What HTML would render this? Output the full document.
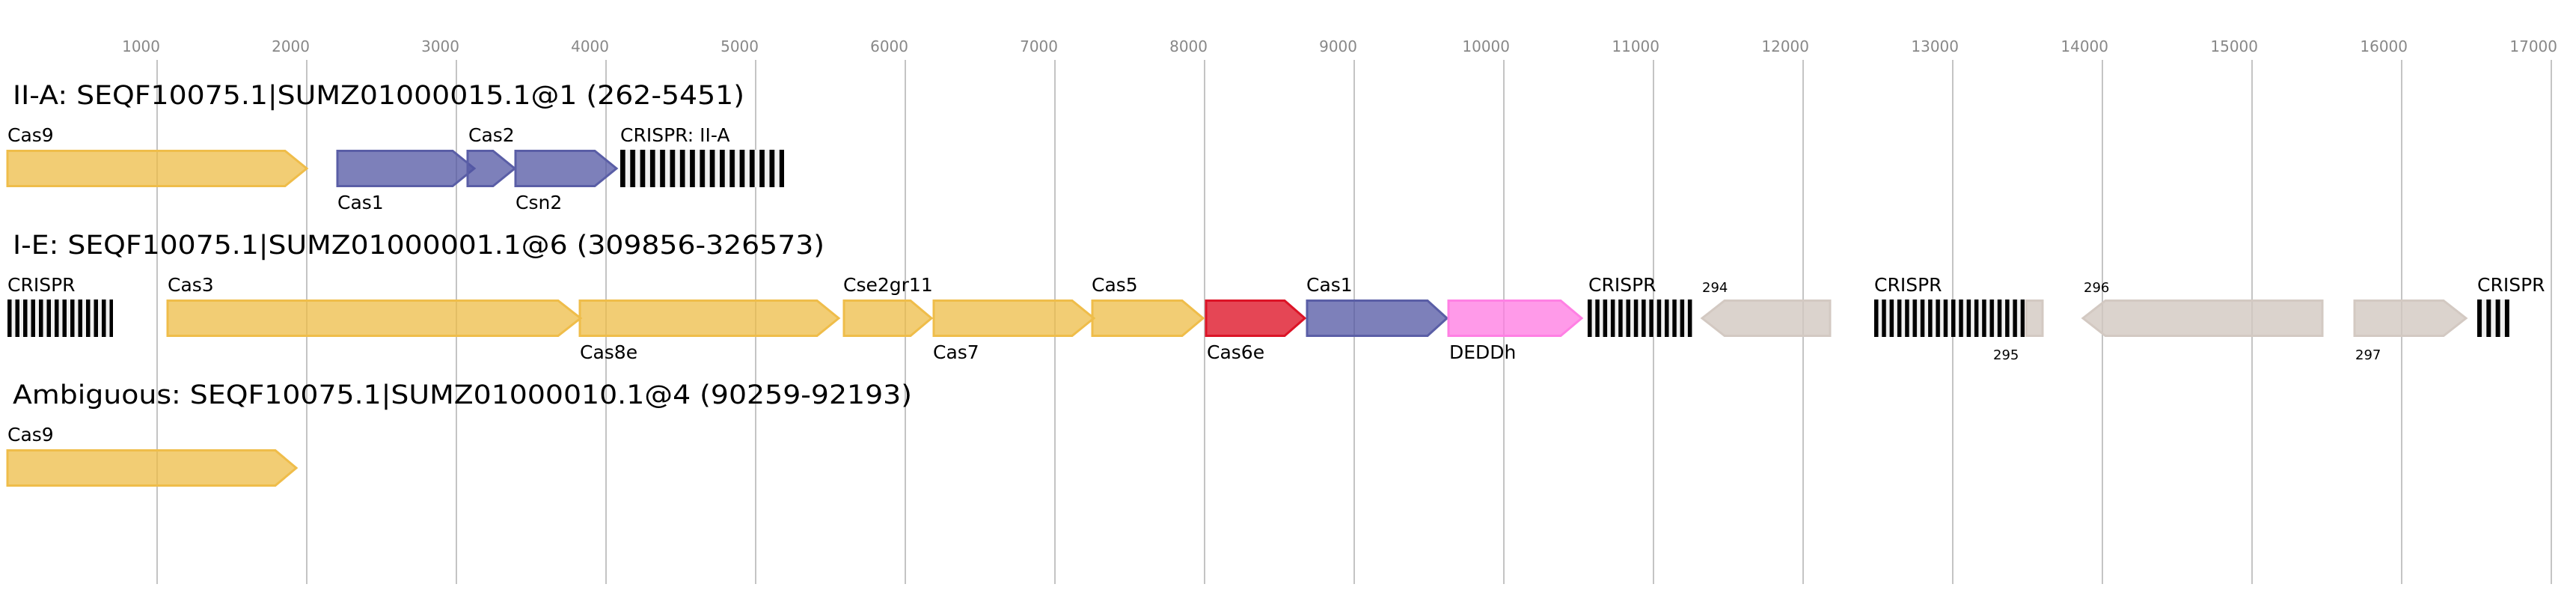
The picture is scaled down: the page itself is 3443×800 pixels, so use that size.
<!DOCTYPE html>
<html><head><meta charset="utf-8"><style>
html,body{margin:0;padding:0;background:#fff}
svg{display:block}
text{font-family:"DejaVu Sans","Liberation Sans",sans-serif}
</style></head><body>
<svg width="3443" height="800" viewBox="0 0 3443 800" xmlns="http://www.w3.org/2000/svg">
<g stroke="#c4c4c4" stroke-width="2">
<line x1="210" y1="80" x2="210" y2="780"/><line x1="410" y1="80" x2="410" y2="780"/>
<line x1="610" y1="80" x2="610" y2="780"/><line x1="810" y1="80" x2="810" y2="780"/>
<line x1="1010" y1="80" x2="1010" y2="780"/><line x1="1210" y1="80" x2="1210" y2="780"/>
<line x1="1410" y1="80" x2="1410" y2="780"/><line x1="1610" y1="80" x2="1610" y2="780"/>
<line x1="1810" y1="80" x2="1810" y2="780"/><line x1="2010" y1="80" x2="2010" y2="780"/>
<line x1="2210" y1="80" x2="2210" y2="780"/><line x1="2410" y1="80" x2="2410" y2="780"/>
<line x1="2610" y1="80" x2="2610" y2="780"/><line x1="2810" y1="80" x2="2810" y2="780"/>
<line x1="3010" y1="80" x2="3010" y2="780"/><line x1="3210" y1="80" x2="3210" y2="780"/>
<line x1="3410" y1="80" x2="3410" y2="780"/>
</g>
<g fill="#888" font-size="20" text-anchor="end">
<text x="214" y="69">1000</text><text x="414" y="69">2000</text><text x="614" y="69">3000</text>
<text x="814" y="69">4000</text><text x="1014" y="69">5000</text><text x="1214" y="69">6000</text>
<text x="1414" y="69">7000</text><text x="1614" y="69">8000</text><text x="1814" y="69">9000</text>
<text x="2018" y="69">10000</text><text x="2218" y="69">11000</text><text x="2418" y="69">12000</text>
<text x="2618" y="69">13000</text><text x="2818" y="69">14000</text><text x="3018" y="69">15000</text>
<text x="3218" y="69">16000</text><text x="3418" y="69">17000</text>
</g>
<g fill="#000" font-size="35">
<text x="17" y="139" textLength="978" lengthAdjust="spacingAndGlyphs">II-A: SEQF10075.1|SUMZ01000015.1@1 (262-5451)</text>
<text x="17" y="339" textLength="1085" lengthAdjust="spacingAndGlyphs">I-E: SEQF10075.1|SUMZ01000001.1@6 (309856-326573)</text>
<text x="17" y="539" textLength="1202" lengthAdjust="spacingAndGlyphs">Ambiguous: SEQF10075.1|SUMZ01000010.1@4 (90259-92193)</text>
</g>
<g stroke-width="3" stroke-linejoin="miter">
<!-- row 1 -->
<polygon points="10,201.5 381,201.5 410,225 381,248.5 10,248.5" fill="rgba(238,188,70,0.75)" stroke="#efbd4a"/>
<polygon points="451,201.5 605,201.5 634,225 605,248.5 451,248.5" fill="rgba(82,85,163,0.75)" stroke="#5a5ea6"/>
<polygon points="625,201.5 659,201.5 688,225 659,248.5 625,248.5" fill="rgba(82,85,163,0.75)" stroke="#5a5ea6"/>
<polygon points="689,201.5 795,201.5 824,225 795,248.5 689,248.5" fill="rgba(82,85,163,0.75)" stroke="#5a5ea6"/>
<!-- row 2 -->
<polygon points="224,401.5 746,401.5 776,425 746,448.5 224,448.5" fill="rgba(238,188,70,0.75)" stroke="#efbd4a"/>
<polygon points="775,401.5 1092,401.5 1121,425 1092,448.5 775,448.5" fill="rgba(238,188,70,0.75)" stroke="#efbd4a"/>
<polygon points="1128,401.5 1217,401.5 1245,425 1217,448.5 1128,448.5" fill="rgba(238,188,70,0.75)" stroke="#efbd4a"/>
<polygon points="1248,401.5 1433,401.5 1462,425 1433,448.5 1248,448.5" fill="rgba(238,188,70,0.75)" stroke="#efbd4a"/>
<polygon points="1460,401.5 1580,401.5 1608,425 1580,448.5 1460,448.5" fill="rgba(238,188,70,0.75)" stroke="#efbd4a"/>
<polygon points="1612,401.5 1717,401.5 1744,425 1717,448.5 1612,448.5" fill="rgba(222,24,42,0.8)" stroke="#dc1427"/>
<polygon points="1747,401.5 1908,401.5 1934,425 1908,448.5 1747,448.5" fill="rgba(82,85,163,0.75)" stroke="#5a5ea6"/>
<polygon points="1936,401.5 2086,401.5 2114,425 2086,448.5 1936,448.5" fill="rgba(255,120,226,0.75)" stroke="#ff80e4"/>
<polygon points="2446,401.5 2305,401.5 2275,425 2305,448.5 2446,448.5" fill="rgba(210,200,193,0.8)" stroke="#d3c9c2"/>
<polygon points="2708,401.5 2730,401.5 2730,448.5 2708,448.5" fill="rgba(210,200,193,0.8)" stroke="#d3c9c2"/>
<polygon points="3104,401.5 2814,401.5 2784,425 2814,448.5 3104,448.5" fill="rgba(210,200,193,0.8)" stroke="#d3c9c2"/>
<polygon points="3147,401.5 3266,401.5 3296,425 3266,448.5 3147,448.5" fill="rgba(210,200,193,0.8)" stroke="#d3c9c2"/>
<!-- row 3 -->
<polygon points="10,601.5 368,601.5 396,625 368,648.5 10,648.5" fill="rgba(238,188,70,0.75)" stroke="#efbd4a"/>
</g>
<!-- CRISPR arrays -->
<defs>
<pattern id="p1" x="829" y="0" width="13.3" height="10" patternUnits="userSpaceOnUse"><rect width="6.7" height="10" fill="#000"/></pattern>
<pattern id="p2" x="10" y="0" width="10.5" height="10" patternUnits="userSpaceOnUse"><rect width="5.5" height="10" fill="#000"/></pattern>
<pattern id="p3" x="2122" y="0" width="10.3" height="10" patternUnits="userSpaceOnUse"><rect width="5.5" height="10" fill="#000"/></pattern>
<pattern id="p4" x="2505" y="0" width="10.3" height="10" patternUnits="userSpaceOnUse"><rect width="5.5" height="10" fill="#000"/></pattern>
<pattern id="p5" x="3311" y="0" width="12.3" height="10" patternUnits="userSpaceOnUse"><rect width="6" height="10" fill="#000"/></pattern>
</defs>
<rect x="829" y="200" width="219" height="50" fill="#f0f0f0"/><rect x="829" y="200" width="219" height="50" fill="url(#p1)"/>
<rect x="10" y="400" width="141" height="50" fill="#f0f0f0"/><rect x="10" y="400" width="141" height="50" fill="url(#p2)"/>
<rect x="2122" y="400" width="140" height="50" fill="#f0f0f0"/><rect x="2122" y="400" width="140" height="50" fill="url(#p3)"/>
<rect x="2505" y="400" width="201" height="50" fill="#f0f0f0"/><rect x="2505" y="400" width="201" height="50" fill="url(#p4)"/>
<rect x="3311" y="400" width="43" height="50" fill="#f0f0f0"/><rect x="3311" y="400" width="43" height="50" fill="url(#p5)"/>
<g fill="#000" font-size="25">
<text x="10" y="189">Cas9</text>
<text x="451" y="279">Cas1</text>
<text x="626" y="189">Cas2</text>
<text x="689" y="279">Csn2</text>
<text x="829" y="189">CRISPR: II-A</text>
<text x="10" y="389">CRISPR</text>
<text x="224" y="389">Cas3</text>
<text x="775" y="479">Cas8e</text>
<text x="1127" y="389">Cse2gr11</text>
<text x="1247" y="479">Cas7</text>
<text x="1459" y="389">Cas5</text>
<text x="1613" y="479">Cas6e</text>
<text x="1746" y="389">Cas1</text>
<text x="1937" y="479">DEDDh</text>
<text x="2123" y="389">CRISPR</text>
<text x="2505" y="389">CRISPR</text>
<text x="3311" y="389">CRISPR</text>
<text x="10" y="589">Cas9</text>
</g>
<g fill="#000" font-size="18">
<text x="2275" y="390">294</text>
<text x="2664" y="480">295</text>
<text x="2785" y="390">296</text>
<text x="3148" y="480">297</text>
</g>
</svg>
</body></html>
